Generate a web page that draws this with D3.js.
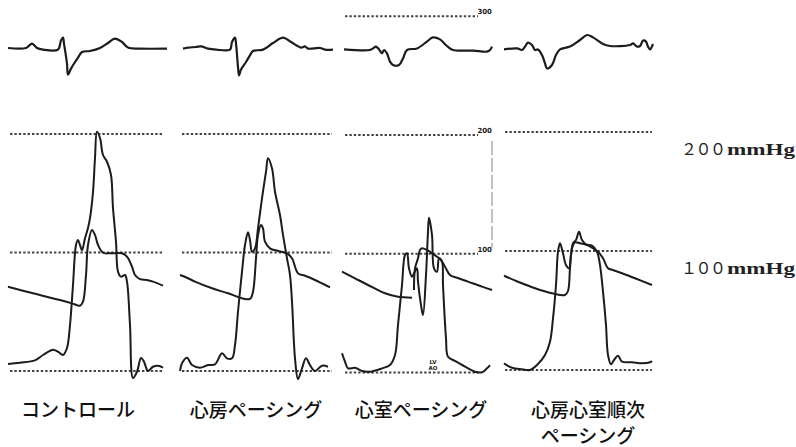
<!DOCTYPE html>
<html>
<head>
<meta charset="utf-8">
<script src="https://cdn.jsdelivr.net/npm/d3@7"></script>
<style>
  body { margin: 0; background: #fff; }
</style>
</head>
<body>
<div id="chart"></div>
<script>
// time in panel units (0..160), ECG in mV, pressure in mmHg
const ecgControl = [[0,0],[18,0],[24,0.22],[29,0],[35,-0.08],[50,-0.08],[53,0.38],[55,0.52],[56,0.22],[59,-0.78],[60,-1.33],[63,-1.03],[67,-0.7],[70,-0.48],[74,-0.2],[82,-0.15],[92,0],[100,0.25],[107,0.47],[114,0.3],[120,0.02],[132,-0.03],[159,-0.03]]
const lvControl = [[0,6],[12,7],[27,9],[35,13.5],[45,18],[50,16.3],[55,13.5],[59,19.4],[62,38.8],[65,72.6],[68,106.3],[70,110.5],[72,106.3],[74,102],[77,112],[80,120.7],[82,129],[85,151],[87,179.7],[89,202],[92,196.6],[95,182.3],[99,176.6],[103,165.4],[105,137.6],[108,109],[110,83.8],[113,79.6],[117,81],[119,75.4],[122,38.8],[125,-5.9],[129,-0.6],[133,11],[136,7.8],[140,0],[145,3.6],[150,4.5],[155,2.8]]
const aoControl = [[0,71.1],[25,65.6],[52,59.9],[64,57.1],[72,55.1],[75,58.5],[78,81],[80,106.3],[84,119],[87,114.8],[90,106.3],[95,99.8],[102,99.3],[114,99.3],[119,96.5],[124,88],[127,81],[132,77.6],[139,76.8],[145,75.4],[155,72]]

const ecgAtrial = [[3,-0.03],[8,0.02],[16,0.05],[21,0.08],[28,-0.03],[36,-0.08],[50,-0.08],[52,0.3],[55,0.52],[56,0.22],[58,-0.95],[59,-1.37],[61,-1.08],[66,-0.7],[70,-0.37],[73,-0.15],[83,-0.08],[93,0.25],[103,0.52],[111,0.3],[121,0.02],[125,0.08],[128,-0.03],[140,0],[145,-0.08],[153,-0.08]]
const lvAtrial = [[0,0],[2,6.5],[7,11.2],[12,5],[20,2.8],[28,5],[35,5.6],[42,14.9],[47,10.7],[52,10.7],[55,21.9],[58,50],[62,83.8],[65,106.3],[68,117],[70,110.5],[72,100.7],[75,103.5],[78,120.4],[82,145.7],[86,168.2],[88,179.5],[92,171],[95,151.3],[100,131.6],[103,114.8],[107,95.1],[110,81],[112,58.5],[115,10.7],[118,-6.8],[122,2.3],[126,10.7],[130,5],[135,0],[142,4.5],[148,3.6]]
const aoAtrial = [[0,81],[7,78.7],[15,75.4],[32,69.8],[48,65.6],[62,61.4],[70,60.8],[73,66.9],[76,95.1],[78,114.8],[81,123.2],[83,120.4],[85,109.1],[90,103.5],[98,101.3],[107,99.3],[112,95.1],[118,82.4],[125,80.4],[135,76.8],[150,70.6]]

const ecgVentricular = [[2,-0.07],[28,-0.1],[31,-0.02],[34,0.07],[37,-0.07],[40,-0.27],[42,-0.1],[45,-0.27],[48,-0.68],[51,-0.85],[57,-0.85],[61,-0.52],[65,-0.1],[75,-0.02],[85,0.32],[91,0.53],[98,0.43],[105,0.1],[111,-0.1],[131,-0.13],[145,-0.18],[148,-0.1],[150,0.07]]
const lvVentricular = [[0,16.2],[3,9.1],[6,3.5],[13,4],[20,1.3],[28,0.7],[40,3.5],[48,6.3],[53,14.7],[56,40],[60,73.7],[63,98.9],[65,100.4],[67,87.7],[70,80.7],[72,83.5],[75,87.7],[76,76.5],[79,56.8],[81,48.4],[84,82.1],[86,118.6],[87,130.4],[90,115.8],[92,87.7],[95,84.9],[97,96.2],[100,93.3],[101,73.7],[104,28.8],[106,13.3],[113,9.7],[123,4.9],[133,0.7],[140,0.2],[145,3.5],[148,6.3]]
const aoVentricular = [[0,84.9],[13,79.3],[26,73.7],[43,66.7],[56,63.8],[70,63],[71,null],[72,69.5],[73,87.7],[76,96.2],[78,103.2],[80,104.6],[85,103.2],[90,100.4],[95,97.5],[99,94.7],[103,89.1],[108,82.1],[115,79.8],[126,76.5],[140,72.3],[150,69.5]]

const ecgSequential = [[0,-0.07],[13,-0.02],[18,-0.1],[21,0.07],[24,0.27],[28,0.15],[31,-0.1],[34,-0.07],[38,-0.35],[41,-0.77],[43,-1.02],[48,-0.85],[52,-0.35],[56,-0.07],[66,0.07],[76,0.4],[83,0.65],[89,0.53],[99,0.2],[106,0.1],[126,0.15],[129,0.23],[133,0.07],[136,0.1],[139,0.37],[142,0.32],[144,0.07],[146,-0.07],[149,0.2]]
const lvSequential = [[0,5.6],[8,1.9],[18,0.6],[26,0],[33,4.2],[41,12.6],[46,23.8],[49,43.4],[52,71.4],[54,99.4],[56,106.5],[59,98.1],[62,88.2],[65,85.5],[67,96.6],[69,106.5],[72,109.2],[75,116.2],[78,109.2],[82,105.6],[88,104.5],[93,99.4],[96,88.2],[99,65.8],[102,37.8],[104,12.6],[107,4.8],[110,8.4],[114,12],[118,7],[128,6.5],[138,5.6],[146,6.5],[148,7.6]]
const aoSequential = [[0,79.2],[14,74.2],[31,68.7],[48,64.5],[61,63],[64,66.4],[66,85.5],[68,102.3],[71,107.3],[76,106.5],[83,105],[89,102.3],[94,99.4],[99,93.9],[104,85.5],[109,84],[118,81.3],[131,77.1],[148,71.4]]

const panelNames = [['コントロール'], ['心房ペーシング'], ['心室ペーシング'], ['心房心室順次', 'ペーシング']]
const pressureLevels = [0, 100, 200]
const scaleLevels = [300, 200, 100]
const sideLabels = [{ value: 200, num: '２００', unit: 'mmHg' }, { value: 100, num: '１００', unit: 'mmHg' }]

const width = 796
const height = 447

// layout of each strip on the page
const panels = [
  { x0: 8, y0: 371, y200: 134, ecg: ecgControl, lv: lvControl, ao: aoControl, grid: [2, 155], labelX: 78 },
  { x0: 180, y0: 371, y200: 134, ecg: ecgAtrial, lv: lvAtrial, ao: aoAtrial, grid: [2, 152], labelX: 256 },
  { x0: 342, y0: 372.5, y200: 135, ecg: ecgVentricular, lv: lvVentricular, ao: aoVentricular, grid: [3, 136], labelX: 421, scale: true },
  { x0: 504, y0: 370, y200: 132, ecg: ecgSequential, lv: lvSequential, ao: aoSequential, grid: [1, 148], labelX: 588 }
]

const ink = '#1c1c1c'

const svg = d3.create('svg')
  .attr('width', width)
  .attr('height', height)
  .style('background', '#fff')

panels.forEach((p, i) => {
  const x = d3.scaleLinear().domain([0, 160]).range([p.x0, p.x0 + 160])
  const y = d3.scaleLinear().domain([0, 200]).range([p.y0, p.y200])
  const yEcg = d3.scaleLinear().domain([-1, 1]).range([68, 28])

  const g = svg.append('g')

  // dotted pressure reference lines
  const levels = p.scale ? pressureLevels.concat([300]) : pressureLevels
  g.selectAll('line.ref')
    .data(levels)
    .join('line')
    .attr('class', 'ref')
    .attr('x1', x(p.grid[0]))
    .attr('x2', x(p.grid[1]))
    .attr('y1', d => y(d))
    .attr('y2', d => y(d))
    .attr('stroke', '#444')
    .attr('stroke-width', 1.8)
    .attr('stroke-dasharray', '2.4,2')

  if (p.scale) {
    // calibration marks printed on the strip
    g.append('line')
      .attr('x1', x(150)).attr('x2', x(150))
      .attr('y1', y(195)).attr('y2', y(105))
      .attr('stroke', '#999')
      .attr('stroke-width', 1.2)
      .attr('stroke-dasharray', '14,3')
    g.selectAll('text.cal')
      .data(scaleLevels)
      .join('text')
      .attr('class', 'cal')
      .attr('x', x(150))
      .attr('y', d => y(d) - 2)
      .attr('text-anchor', 'end')
      .attr('font-family', 'DejaVu Sans')
      .attr('font-weight', 'bold')
      .attr('font-size', 7)
      .attr('fill', ink)
      .text(d => d)
    g.selectAll('text.lead')
      .data(['LV', 'AO'])
      .join('text')
      .attr('class', 'lead')
      .attr('x', x(91))
      .attr('y', (d, k) => y(0) - 9 + k * 6)
      .attr('text-anchor', 'middle')
      .attr('font-family', 'DejaVu Sans')
      .attr('font-weight', 'bold')
      .attr('font-size', 5.5)
      .attr('fill', ink)
      .text(d => d)
  }

  const ecgLine = d3.line()
    .x(d => x(d[0]))
    .y(d => yEcg(d[1]))
    .curve(d3.curveCatmullRom.alpha(0.5))

  const pLine = d3.line()
    .defined(d => d[1] != null)
    .x(d => x(d[0]))
    .y(d => y(d[1]))
    .curve(d3.curveCatmullRom.alpha(0.5))

  g.append('path')
    .datum(p.ecg)
    .attr('d', ecgLine)
    .attr('fill', 'none')
    .attr('stroke', ink)
    .attr('stroke-width', 2.2)
    .attr('stroke-linejoin', 'round')

  g.append('path')
    .datum(p.ao)
    .attr('d', pLine)
    .attr('fill', 'none')
    .attr('stroke', ink)
    .attr('stroke-width', 2)
    .attr('stroke-linejoin', 'round')

  g.append('path')
    .datum(p.lv)
    .attr('d', pLine)
    .attr('fill', 'none')
    .attr('stroke', ink)
    .attr('stroke-width', 2)
    .attr('stroke-linejoin', 'round')

  // condition name under the strip
  g.selectAll('text.name')
    .data(panelNames[i])
    .join('text')
    .attr('class', 'name')
    .attr('x', p.labelX)
    .attr('y', (d, k) => 408 + k * 26)
    .attr('text-anchor', 'middle')
    .attr('dominant-baseline', 'central')
    .attr('font-family', '"Noto Sans CJK JP", sans-serif')
    .attr('font-weight', 500)
    .attr('font-size', 19)
    .attr('fill', '#111')
    .text(d => d)
})

// pressure labels on the right
const yRight = d3.scaleLinear().domain([0, 200]).range([371, 134])
sideLabels.forEach(s => {
  const t = svg.append('text')
    .attr('y', yRight(s.value) + 21)
    .attr('font-size', 16)
    .attr('fill', '#222')
  t.append('tspan')
    .attr('x', 681)
    .attr('font-family', '"Noto Sans CJK JP", serif')
    .attr('textLength', 45)
    .attr('lengthAdjust', 'spacing')
    .text(s.num)
  t.append('tspan')
    .attr('x', 727)
    .attr('font-family', '"Liberation Serif", "DejaVu Serif", serif')
    .attr('font-weight', 'bold')
    .attr('textLength', 68)
    .attr('lengthAdjust', 'spacingAndGlyphs')
    .text(s.unit)
})

document.getElementById('chart').appendChild(svg.node())
</script>
</body>
</html>
